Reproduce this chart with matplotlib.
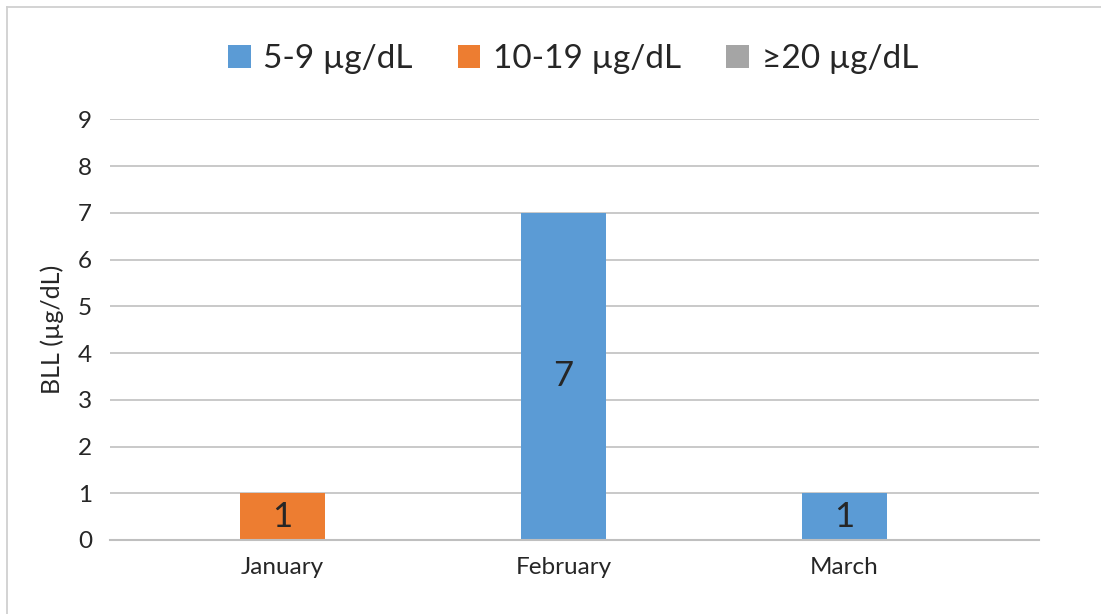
import matplotlib
matplotlib.use("Agg")
import matplotlib.pyplot as plt
from matplotlib.patches import Patch
from matplotlib.lines import Line2D

plt.rcParams['font.family'] = ['Lato', 'DejaVu Sans']

months = ["January", "February", "March"]
series_names = ["5-9 µg/dL", "10-19 µg/dL", "≥20 µg/dL"]
bll_5_9 = [0, 7, 1]
bll_10_19 = [1, 0, 0]
bll_20_plus = [0, 0, 0]
series_values = [bll_5_9, bll_10_19, bll_20_plus]
colors = ["#5B9BD5", "#ED7D31", "#A5A5A5"]
y_ticks = list(range(0, 10))

W, H = 1101, 614
fig = plt.figure(figsize=(W / 100, H / 100), dpi=100)
fig.patch.set_facecolor("white")

# outer chart frame (left and top edges visible)
frame_col = "#d0d0d0"
fig.add_artist(Line2D([7 / W, 7 / W], [0, 1 - 7 / H], transform=fig.transFigure,
                      color=frame_col, lw=1.3))
fig.add_artist(Line2D([7 / W, 1], [1 - 7 / H, 1 - 7 / H], transform=fig.transFigure,
                      color=frame_col, lw=1.3))

left, right, top, bottom = 110, 1039, 119.3, 540
ax = fig.add_axes([left / W, (H - bottom) / H, (right - left) / W, (bottom - top) / H])

x = list(range(len(months)))
bottoms = [0] * len(months)
for name, vals, col in zip(series_names, series_values, colors):
    bars = ax.bar(x, vals, width=0.302, bottom=bottoms, color=col, label=name, zorder=3)
    labels = [str(v) if v else "" for v in vals]
    ax.bar_label(bars, labels=labels, label_type="center", fontsize=25, color="#262626")
    bottoms = [b + v for b, v in zip(bottoms, vals)]

ax.set_xlim(-0.614, 2.692)
ax.set_ylim(0, 9)
ax.set_yticks(y_ticks)
ax.set_xticks(x)
ax.set_xticklabels(months)
ax.tick_params(axis="both", length=0, labelsize=17.5, colors="#404040")
ax.tick_params(axis="y", pad=13)
ax.tick_params(axis="x", pad=12)
for lbl in ax.get_xticklabels() + ax.get_yticklabels():
    lbl.set_color("#262626")
ax.grid(axis="y", color="#c0c0c0", lw=1.2, zorder=0)
for s in ["top", "right", "left"]:
    ax.spines[s].set_visible(False)
ax.spines["bottom"].set_color("#bfbfbf")
ax.spines["bottom"].set_linewidth(1.5)
ax.spines["bottom"].set_zorder(4)
ax.set_ylabel("BLL (µg/dL)", fontsize=18, color="#262626", labelpad=10)

handles = [Patch(facecolor=c, edgecolor="none") for c in colors]
fig.legend(handles, series_names, loc="center", bbox_to_anchor=(573 / W, 1 - 59 / H),
           ncol=3, frameon=False, fontsize=24, handlelength=0.68, handleheight=0.68,
           handletextpad=0.38, columnspacing=1.35, labelcolor="#262626")

fig.savefig("out.png", dpi=100)
